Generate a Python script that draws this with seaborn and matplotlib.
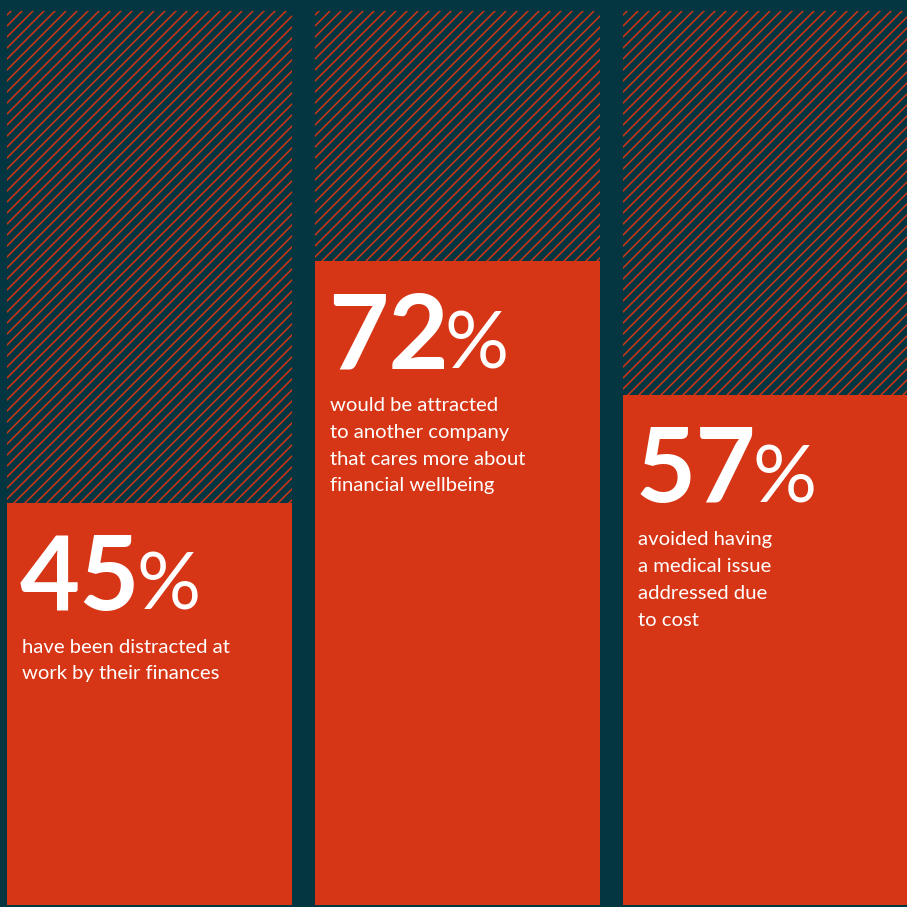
import matplotlib
matplotlib.use("Agg")
import matplotlib.pyplot as plt
import seaborn as sns
import pandas as pd

# Survey results (percent of respondents)
categories = ["distracted", "attracted", "avoided"]
values = [45, 72, 57]
captions = [
    ["have been distracted at", "work by their finances"],
    ["would be attracted", "to another company", "that cares more about", "financial wellbeing"],
    ["avoided having", "a medical issue", "addressed due", "to cost"],
]
full_scale = [100, 100, 100]

TEAL = "#033641"
RED = "#D73616"
WHITE = "#FFFFFF"

DPI = 66
PX = 907
sns.set_theme(style="white")
plt.rcParams["hatch.linewidth"] = 1.6
plt.rcParams["font.family"] = ["Lato", "DejaVu Sans"]


def pt(px):
    """Convert pixel length to points at the figure dpi."""
    return px * 72.0 / DPI


fig = plt.figure(figsize=(PX / DPI, PX / DPI), dpi=DPI, facecolor=TEAL)
ax = fig.add_axes([0, 0, 1, 1])
ax.set_facecolor(TEAL)

df = pd.DataFrame({"cat": categories, "full": full_scale, "value": values})
bar_w = 285 / 308

# hatched 100% columns
sns.barplot(data=df, x="cat", y="full", ax=ax, width=bar_w, color=TEAL,
            saturation=1, hatch="//", edgecolor=RED, linewidth=0, zorder=1)
n_bg = len(ax.patches)
# filled value bars
sns.barplot(data=df, x="cat", y="value", ax=ax, width=bar_w, color=RED,
            saturation=1, linewidth=0, zorder=2)

ax.set_xlim(-149.5 / 308, 2 + 141.5 / 308)
ax.set_ylim(-2 / 8.94, 100 + 11 / 8.94)
ax.set_axis_off()

num_dx, num_dy = 13, 107
body_dx, body_dy, body_gap = 15, 150, 26.7

for bar, val, lines in zip(ax.patches[n_bg:], values, captions):
    x0 = bar.get_x()
    top = bar.get_height()
    num = ax.annotate(f"{val}", xy=(x0, top), xycoords="data",
                      xytext=(pt(num_dx), -pt(num_dy)), textcoords="offset points",
                      ha="left", va="baseline", color=WHITE, fontsize=pt(104),
                      fontweight="bold", zorder=3)
    ax.annotate("%", xy=(1, top), xycoords=(num, "data"),
                xytext=(pt(-4), -pt(num_dy)), textcoords="offset points",
                ha="left", va="baseline", color=WHITE, fontsize=pt(80),
                fontweight="normal", zorder=3)
    for k, line in enumerate(lines):
        ax.annotate(line, xy=(x0, top), xycoords="data",
                    xytext=(pt(body_dx), -pt(body_dy + k * body_gap)),
                    textcoords="offset points", ha="left", va="baseline",
                    color=WHITE, fontsize=pt(20.2), zorder=3)

fig.savefig("out.png", dpi=DPI, facecolor=TEAL)
